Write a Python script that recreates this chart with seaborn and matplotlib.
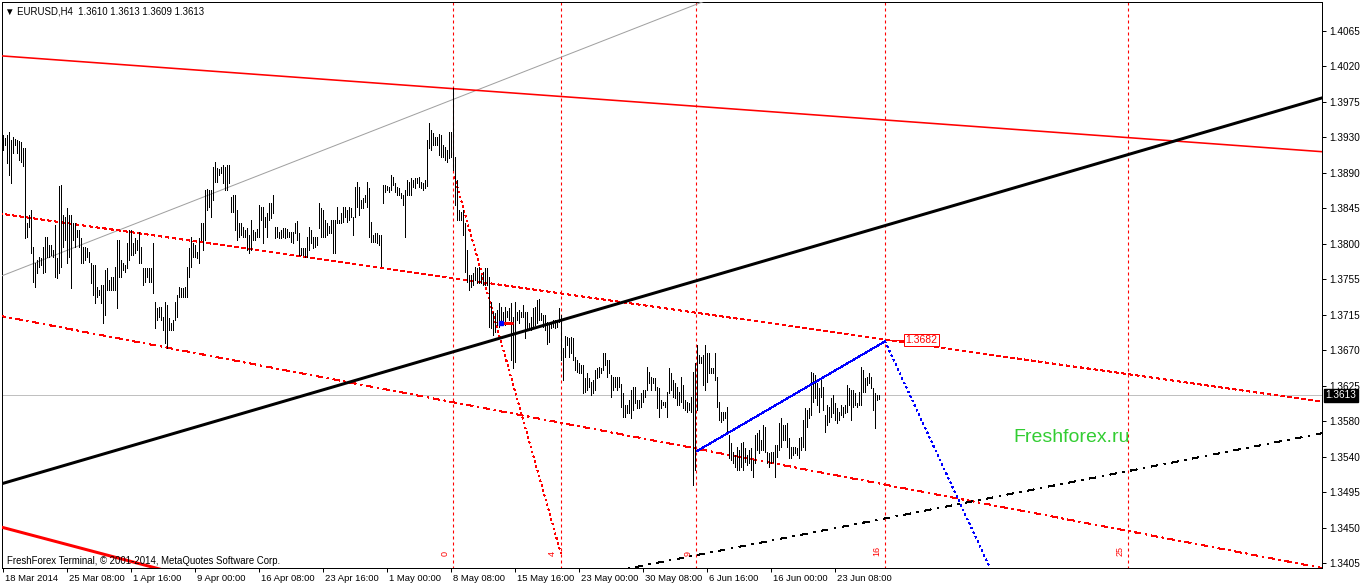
import numpy as np
import matplotlib
matplotlib.use("Agg")
import matplotlib.pyplot as plt
import matplotlib.transforms as mtransforms
import seaborn as sns

# ---------------- data ----------------
chart_title = "EURUSD,H4  1.3610 1.3613 1.3609 1.3613"
copyright_text = "FreshForex Terminal, \u00a9 2001-2014, MetaQuotes Software Corp."
watermark = "Freshforex.ru"

highs = [
    1.3936, 1.3932, 1.3936, 1.3940, 1.3930, 1.3934, 1.3931, 1.3930, 1.3929, 1.3927,
    1.3920, 1.3920, 1.3827, 1.3837, 1.3843, 1.3797, 1.3777, 1.3781, 1.3785, 1.3783,
    1.3797, 1.3810, 1.3810, 1.3800, 1.3800, 1.3793, 1.3824, 1.3783, 1.3873, 1.3874,
    1.3837, 1.3834, 1.3846, 1.3837, 1.3837, 1.3827, 1.3827, 1.3818, 1.3818, 1.3808,
    1.3797, 1.3797, 1.3796, 1.3791, 1.3777, 1.3775, 1.3775, 1.3748, 1.3744, 1.3750,
    1.3750, 1.3769, 1.3771, 1.3756, 1.3760, 1.3760, 1.3772, 1.3806, 1.3806, 1.3781,
    1.3777, 1.3775, 1.3802, 1.3818, 1.3818, 1.3802, 1.3808, 1.3806, 1.3816, 1.3797,
    1.3771, 1.3771, 1.3771, 1.3771, 1.3771, 1.3802, 1.3729, 1.3721, 1.3723, 1.3723,
    1.3710, 1.3729, 1.3725, 1.3709, 1.3703, 1.3707, 1.3729, 1.3738, 1.3748, 1.3746,
    1.3746, 1.3748, 1.3772, 1.3796, 1.3810, 1.3802, 1.3800, 1.3791, 1.3808, 1.3827,
    1.3827, 1.3868, 1.3869, 1.3868, 1.3868, 1.3896, 1.3903, 1.3895, 1.3894, 1.3896,
    1.3899, 1.3896, 1.3899, 1.3899, 1.3859, 1.3862, 1.3862, 1.3843, 1.3827, 1.3827,
    1.3822, 1.3818, 1.3821, 1.3812, 1.3831, 1.3818, 1.3816, 1.3819, 1.3849, 1.3847,
    1.3847, 1.3834, 1.3839, 1.3852, 1.3852, 1.3862, 1.3822, 1.3822, 1.3816, 1.3818,
    1.3821, 1.3821, 1.3819, 1.3816, 1.3816, 1.3816, 1.3827, 1.3829, 1.3815, 1.3796,
    1.3796, 1.3796, 1.3810, 1.3822, 1.3818, 1.3810, 1.3810, 1.3810, 1.3852, 1.3846,
    1.3843, 1.3831, 1.3827, 1.3823, 1.3831, 1.3831, 1.3831, 1.3847, 1.3831, 1.3839,
    1.3847, 1.3847, 1.3843, 1.3847, 1.3846, 1.3834, 1.3872, 1.3878, 1.3872, 1.3855,
    1.3858, 1.3862, 1.3878, 1.3870, 1.3828, 1.3812, 1.3815, 1.3815, 1.3812, 1.3812,
    1.3874, 1.3874, 1.3873, 1.3872, 1.3886, 1.3884, 1.3876, 1.3872, 1.3870, 1.3864,
    1.3862, 1.3868, 1.3880, 1.3878, 1.3883, 1.3880, 1.3883, 1.3883, 1.3884, 1.3878,
    1.3876, 1.3880, 1.3930, 1.3951, 1.3942, 1.3939, 1.3934, 1.3934, 1.3937, 1.3936,
    1.3924, 1.3921, 1.3917, 1.3940, 1.3940, 1.3994, 1.3909, 1.3880, 1.3843, 1.3840,
    1.3843, 1.3827, 1.3793, 1.3762, 1.3762, 1.3765, 1.3772, 1.3771, 1.3772, 1.3762,
    1.3766, 1.3771, 1.3771, 1.3760, 1.3729, 1.3717, 1.3715, 1.3719, 1.3728, 1.3723,
    1.3717, 1.3723, 1.3718, 1.3721, 1.3728, 1.3710, 1.3729, 1.3717, 1.3719, 1.3717,
    1.3725, 1.3717, 1.3717, 1.3703, 1.3710, 1.3721, 1.3723, 1.3731, 1.3733, 1.3715,
    1.3713, 1.3713, 1.3704, 1.3700, 1.3703, 1.3707, 1.3707, 1.3707, 1.3721, 1.3713,
    1.3672, 1.3687, 1.3685, 1.3684, 1.3685, 1.3684, 1.3661, 1.3657, 1.3653, 1.3651,
    1.3651, 1.3635, 1.3641, 1.3635, 1.3630, 1.3632, 1.3645, 1.3647, 1.3648, 1.3647,
    1.3666, 1.3666, 1.3657, 1.3657, 1.3638, 1.3636, 1.3636, 1.3636, 1.3636, 1.3627,
    1.3616, 1.3601, 1.3601, 1.3607, 1.3620, 1.3623, 1.3623, 1.3607, 1.3607, 1.3616,
    1.3620, 1.3620, 1.3648, 1.3642, 1.3636, 1.3635, 1.3635, 1.3623, 1.3622, 1.3607,
    1.3605, 1.3605, 1.3617, 1.3647, 1.3641, 1.3632, 1.3628, 1.3623, 1.3617, 1.3636,
    1.3626, 1.3607, 1.3605, 1.3604, 1.3611, 1.3642, 1.3653, 1.3676, 1.3663, 1.3661,
    1.3663, 1.3676, 1.3666, 1.3666, 1.3647, 1.3647, 1.3666, 1.3636, 1.3605, 1.3592,
    1.3592, 1.3592, 1.3599, 1.3564, 1.3554, 1.3543, 1.3539, 1.3549, 1.3545, 1.3554,
    1.3555, 1.3548, 1.3539, 1.3545, 1.3548, 1.3533, 1.3564, 1.3566, 1.3570, 1.3558,
    1.3576, 1.3574, 1.3543, 1.3542, 1.3543, 1.3543, 1.3551, 1.3551, 1.3579, 1.3585,
    1.3576, 1.3576, 1.3579, 1.3560, 1.3549, 1.3549, 1.3549, 1.3548, 1.3560, 1.3561,
    1.3583, 1.3597, 1.3595, 1.3597, 1.3642, 1.3641, 1.3638, 1.3628, 1.3622, 1.3632,
    1.3623, 1.3589, 1.3601, 1.3599, 1.3610, 1.3614, 1.3604, 1.3597, 1.3592, 1.3601,
    1.3599, 1.3601, 1.3626, 1.3622, 1.3620, 1.3620, 1.3616, 1.3604, 1.3617, 1.3648,
    1.3645, 1.3635, 1.3636, 1.3641, 1.3636, 1.3622, 1.3616, 1.3614, 1.3613,
]

lows = [
    1.3917, 1.3924, 1.3901, 1.3886, 1.3876, 1.3914, 1.3924, 1.3914, 1.3905, 1.3903,
    1.3898, 1.3808, 1.3810, 1.3822, 1.3790, 1.3754, 1.3748, 1.3765, 1.3772, 1.3775,
    1.3765, 1.3766, 1.3785, 1.3785, 1.3787, 1.3785, 1.3760, 1.3759, 1.3765, 1.3772,
    1.3797, 1.3806, 1.3777, 1.3785, 1.3746, 1.3806, 1.3797, 1.3810, 1.3797, 1.3777,
    1.3777, 1.3781, 1.3785, 1.3778, 1.3752, 1.3738, 1.3728, 1.3735, 1.3738, 1.3728,
    1.3703, 1.3713, 1.3744, 1.3744, 1.3744, 1.3744, 1.3744, 1.3721, 1.3760, 1.3760,
    1.3769, 1.3766, 1.3771, 1.3781, 1.3787, 1.3787, 1.3790, 1.3793, 1.3777, 1.3777,
    1.3750, 1.3754, 1.3760, 1.3754, 1.3754, 1.3740, 1.3697, 1.3707, 1.3710, 1.3707,
    1.3694, 1.3678, 1.3672, 1.3694, 1.3694, 1.3694, 1.3707, 1.3710, 1.3735, 1.3735,
    1.3735, 1.3735, 1.3735, 1.3760, 1.3772, 1.3785, 1.3785, 1.3783, 1.3777, 1.3806,
    1.3793, 1.3806, 1.3843, 1.3847, 1.3834, 1.3855, 1.3878, 1.3878, 1.3886, 1.3889,
    1.3876, 1.3868, 1.3868, 1.3876, 1.3840, 1.3840, 1.3818, 1.3806, 1.3810, 1.3812,
    1.3810, 1.3810, 1.3793, 1.3790, 1.3793, 1.3806, 1.3806, 1.3810, 1.3810, 1.3831,
    1.3802, 1.3822, 1.3810, 1.3831, 1.3833, 1.3839, 1.3808, 1.3810, 1.3808, 1.3808,
    1.3810, 1.3808, 1.3810, 1.3810, 1.3803, 1.3802, 1.3815, 1.3806, 1.3787, 1.3787,
    1.3787, 1.3785, 1.3785, 1.3793, 1.3802, 1.3796, 1.3797, 1.3800, 1.3821, 1.3810,
    1.3810, 1.3810, 1.3812, 1.3815, 1.3815, 1.3790, 1.3790, 1.3827, 1.3827, 1.3827,
    1.3828, 1.3834, 1.3828, 1.3831, 1.3834, 1.3812, 1.3834, 1.3847, 1.3837, 1.3846,
    1.3846, 1.3853, 1.3847, 1.3810, 1.3803, 1.3803, 1.3803, 1.3802, 1.3800, 1.3774,
    1.3852, 1.3865, 1.3868, 1.3865, 1.3868, 1.3874, 1.3865, 1.3862, 1.3862, 1.3858,
    1.3849, 1.3810, 1.3862, 1.3862, 1.3862, 1.3872, 1.3870, 1.3876, 1.3872, 1.3870,
    1.3868, 1.3870, 1.3873, 1.3920, 1.3917, 1.3924, 1.3924, 1.3924, 1.3911, 1.3909,
    1.3909, 1.3905, 1.3903, 1.3908, 1.3909, 1.3893, 1.3849, 1.3831, 1.3831, 1.3831,
    1.3812, 1.3766, 1.3754, 1.3744, 1.3748, 1.3750, 1.3756, 1.3752, 1.3752, 1.3752,
    1.3750, 1.3750, 1.3750, 1.3698, 1.3697, 1.3688, 1.3692, 1.3700, 1.3698, 1.3704,
    1.3703, 1.3700, 1.3710, 1.3707, 1.3657, 1.3647, 1.3654, 1.3707, 1.3703, 1.3710,
    1.3710, 1.3684, 1.3697, 1.3698, 1.3694, 1.3698, 1.3700, 1.3703, 1.3707, 1.3707,
    1.3698, 1.3694, 1.3677, 1.3679, 1.3697, 1.3698, 1.3697, 1.3698, 1.3704, 1.3657,
    1.3632, 1.3661, 1.3676, 1.3661, 1.3666, 1.3657, 1.3645, 1.3642, 1.3641, 1.3641,
    1.3616, 1.3617, 1.3620, 1.3623, 1.3614, 1.3616, 1.3620, 1.3635, 1.3636, 1.3641,
    1.3645, 1.3651, 1.3636, 1.3641, 1.3611, 1.3620, 1.3623, 1.3620, 1.3623, 1.3599,
    1.3586, 1.3586, 1.3591, 1.3591, 1.3585, 1.3595, 1.3604, 1.3597, 1.3597, 1.3599,
    1.3605, 1.3611, 1.3620, 1.3628, 1.3620, 1.3628, 1.3620, 1.3597, 1.3586, 1.3597,
    1.3601, 1.3599, 1.3586, 1.3616, 1.3620, 1.3611, 1.3610, 1.3601, 1.3601, 1.3605,
    1.3597, 1.3595, 1.3592, 1.3595, 1.3592, 1.3502, 1.3520, 1.3595, 1.3653, 1.3653,
    1.3626, 1.3620, 1.3630, 1.3641, 1.3641, 1.3641, 1.3632, 1.3599, 1.3583, 1.3580,
    1.3583, 1.3585, 1.3566, 1.3535, 1.3533, 1.3529, 1.3524, 1.3520, 1.3520, 1.3524,
    1.3520, 1.3530, 1.3527, 1.3529, 1.3520, 1.3512, 1.3529, 1.3545, 1.3542, 1.3545,
    1.3545, 1.3543, 1.3529, 1.3524, 1.3529, 1.3530, 1.3512, 1.3537, 1.3545, 1.3549,
    1.3558, 1.3558, 1.3549, 1.3535, 1.3535, 1.3539, 1.3542, 1.3539, 1.3535, 1.3545,
    1.3549, 1.3545, 1.3574, 1.3585, 1.3589, 1.3605, 1.3610, 1.3601, 1.3592, 1.3611,
    1.3595, 1.3568, 1.3576, 1.3580, 1.3586, 1.3591, 1.3583, 1.3579, 1.3583, 1.3589,
    1.3586, 1.3591, 1.3592, 1.3601, 1.3583, 1.3599, 1.3601, 1.3599, 1.3601, 1.3601,
    1.3617, 1.3617, 1.3626, 1.3628, 1.3622, 1.3595, 1.3573, 1.3607, 1.3609,
]

time_labels = ["18 Mar 2014", "25 Mar 08:00", "1 Apr 16:00", "9 Apr 00:00",
               "16 Apr 08:00", "23 Apr 16:00", "1 May 00:00", "8 May 08:00",
               "15 May 16:00", "23 May 00:00", "30 May 08:00", "6 Jun 16:00",
               "16 Jun 00:00", "23 Jun 08:00"]
bars_per_time_label = 32

price_labels = ["1.4065", "1.4020", "1.3975", "1.3930", "1.3890", "1.3845",
                "1.3800", "1.3755", "1.3715", "1.3670", "1.3625", "1.3580",
                "1.3540", "1.3495", "1.3450", "1.3405"]
price_label_top = 1.4065
price_label_bottom = 1.3405
current_price = 1.3613

# time zone lines (bar index) and their labels
zone_bars = [225, 279, 346.5, 441, 562.5]
zone_labels = ["0", "4", "9", "16", "25"]

# trend objects: two anchor points each, (bar index, price)
grey_line = [(0, 1.3762), (300, 1.4053)]
red_top_line = [(0, 1.4034), (600, 1.3926)]
black_trend = [(0, 1.3504), (600, 1.3939)]
red_upper_channel = [(0, 1.3838), (600, 1.3626)]
red_lower_channel = [(0, 1.3711), (600, 1.3427)]
black_channel = [(315.85, 1.3400), (659.35, 1.3566)]
red_bottom_line = [(0, 1.3449), (70, 1.3403)]
red_steep_segment = [(225.6, 1.3884), (279, 1.3415)]
blue_segment = [(346.85, 1.3544), (440.85, 1.3680)]
blue_ray = [(440.85, 1.3680), (493.35, 1.3399)]
price_label_value = 1.3682
price_label_bar = 451.0
trade_mark = (250.0, 254.5, 1.3703)

# ---------------- figure ----------------
sns.set_theme(style="white")
plt.rcParams["font.family"] = ["Liberation Sans", "DejaVu Sans"]
plt.rcParams["lines.scale_dashes"] = False

W, H = 1362, 586
fig = plt.figure(figsize=(W / 100, H / 100), dpi=100)
fig.patch.set_facecolor("white")
ax = fig.add_axes([2 / W, 18 / H, 1320 / W, 566 / H])
ax.set_facecolor("white")

n = len(highs)
bars = np.arange(n)
x_left, x_right = -0.65, 659.35
y_top = 1.4101
y_bottom = 1.33989
ax.set_xlim(x_left, x_right)
ax.set_ylim(y_bottom, y_top)

PX = 0.72  # points per pixel at 100 dpi


def extend(line, x0=x_left - 5, x1=x_right + 5):
    (a, pa), (b, pb) = line
    s = (pb - pa) / (b - a)
    return [x0, x1], [pa + s * (x0 - a), pa + s * (x1 - a)]


def seg(line):
    (a, pa), (b, pb) = line
    return [a, b], [pa, pb]


def draw(xs, ys, color, lw_px, dash=None, aa=True, z=3):
    kw = dict(color=color, linewidth=lw_px * PX, ax=ax, legend=False,
              estimator=None, sort=False, zorder=z)
    if dash is not None:
        kw["linestyle"] = (0, tuple(d * PX for d in dash))
    artist_count = len(ax.lines)
    sns.lineplot(x=xs, y=ys, **kw)
    for ln in ax.lines[artist_count:]:
        ln.set_antialiased(aa)
        ln.set_clip_on(True)


# current price horizontal line
draw([x_left - 5, x_right + 5], [current_price, current_price], "#c0c0c0", 1, aa=False, z=1)

# time zone vertical lines (red dashed)
for zb in zone_bars:
    ax.plot([zb, zb], [y_bottom - 0.01, y_top + 0.01], color="#ff0000",
            lw=1.1 * PX, linestyle=(0, (3 * PX, 3 * PX)), antialiased=True,
            zorder=2, solid_capstyle="butt", dash_capstyle="butt")

# bars
ax.vlines(bars, lows, highs, colors="black", linewidth=1 * PX,
          antialiased=False, zorder=4)

# trend lines
draw(*extend(grey_line), "#a0a0a0", 1, z=3)
draw(*extend(red_top_line), "red", 1.6, z=3)
draw(*extend(black_trend), "black", 3, z=5)
draw(*extend(red_upper_channel), "red", 1, dash=(3, 3), aa=False, z=3)
draw(*extend(red_lower_channel), "red", 1, dash=(6, 5, 2, 5), aa=False, z=3)
draw(*extend(black_channel), "black", 1, dash=(6, 6, 2, 6), aa=False, z=3)
draw(*extend(red_bottom_line), "red", 3, z=3)
draw(*seg(red_steep_segment), "red", 1, dash=(2, 3), aa=False, z=3)
draw(*seg(blue_segment), "blue", 1, aa=False, z=5)
draw(*extend(blue_ray, blue_ray[0][0], x_right + 5), "blue", 1, dash=(2, 4), aa=False, z=3)

# small trade mark
draw([trade_mark[0], trade_mark[1]], [trade_mark[2], trade_mark[2]], "red", 3, z=6)
ax.plot([trade_mark[0] - 1.2], [trade_mark[2]], marker="s", ms=2.5, color="blue",
        zorder=6)

# price label 1.3682
draw([blue_segment[1][0] + 2, price_label_bar], [price_label_value, price_label_value],
     "red", 1, z=6)
ax.text(price_label_bar, price_label_value, f"{price_label_value:.4f}", color="red",
        fontsize=7.5, va="center", ha="left", zorder=7,
        bbox=dict(boxstyle="square,pad=0.12", fc="white", ec="red", lw=1 * PX))

# time zone labels
for zb, lab in zip(zone_bars, zone_labels):
    ax.annotate(lab, xy=(zb, 0), xycoords=("data", "axes fraction"),
                xytext=(-3, 9), textcoords="offset points", rotation=90,
                ha="right", va="bottom", color="red", fontsize=6.5, zorder=7)

# watermark
ax.text((1013 - 2) / 1320, (568 - 437) / 566, watermark, transform=ax.transAxes,
        color="#32cd32", fontsize=14, va="center", ha="left", zorder=7)

# title & copyright
ax.text(0.0025, 1 - 9 / 566, "\u25bc " + chart_title, transform=ax.transAxes,
        fontsize=6.9, va="center", ha="left", color="black", zorder=8)
ax.text(5 / 1320, 7 / 566, copyright_text, transform=ax.transAxes,
        fontsize=6.9, va="center", ha="left", color="black", zorder=8)

# axes / ticks
for sp in ax.spines.values():
    sp.set_visible(True)
    sp.set_color("black")
    sp.set_linewidth(1 * PX)

ax.yaxis.tick_right()
yt = np.linspace(price_label_top, price_label_bottom, len(price_labels))
ax.set_yticks(yt)
ax.set_yticklabels(price_labels)
ax.tick_params(axis="y", which="both", direction="out", length=3, width=1 * PX,
               pad=2, labelsize=7.2, colors="black", right=True, left=False)

xt = np.arange(len(time_labels)) * bars_per_time_label
ax.set_xticks(xt)
ax.set_xticklabels(time_labels)
ax.tick_params(axis="x", which="both", direction="out", length=3, width=1 * PX,
               pad=1.5, labelsize=6.8, colors="black", bottom=True, top=False)
offset = mtransforms.ScaledTranslation(1.5 / 72, 0, fig.dpi_scale_trans)
for lbl in ax.get_xticklabels():
    lbl.set_horizontalalignment("left")
    lbl.set_transform(lbl.get_transform() + offset)

ax.grid(False)
ax.set_xlabel("")
ax.set_ylabel("")

# current price box on the scale
ax.annotate(f"{current_price:.4f}", xy=(1, current_price),
            xycoords=("axes fraction", "data"), xytext=(2.5, 0),
            textcoords="offset points", ha="left", va="center", color="white",
            fontsize=7.2, zorder=9, annotation_clip=False,
            bbox=dict(boxstyle="square,pad=0.15", fc="black", ec="black"))

fig.savefig("out.png", dpi=100, facecolor="white")
